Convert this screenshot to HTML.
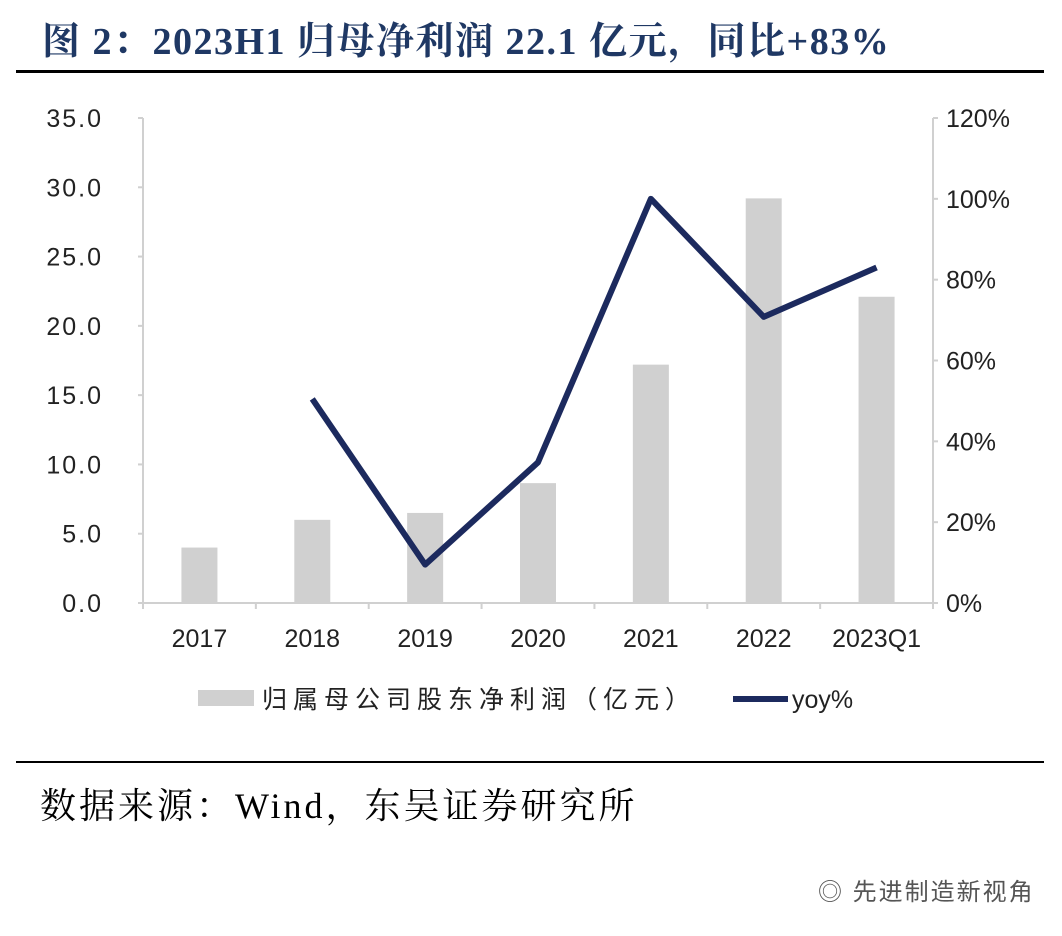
<!DOCTYPE html>
<html><head><meta charset="utf-8"><style>
body{margin:0;width:1062px;height:936px;background:#fff;overflow:hidden;position:relative;font-family:"Liberation Sans","Noto Sans CJK SC",sans-serif}
.abs{position:absolute;white-space:nowrap}
</style></head><body>
<div class="abs" style="left:42px;top:10px;font-family:'Liberation Serif','Noto Serif CJK SC',serif;font-weight:bold;font-size:38px;letter-spacing:1.5px;color:#1f3864;">图 2：2023H1 归母净利润 22.1 亿元，同比+83%</div>
<div class="abs" style="left:16px;top:70px;width:1028px;height:3px;background:#000"></div>
<svg id="chart" class="abs" style="left:0;top:0" width="1062" height="740"></svg>
<div class="abs" style="left:16px;top:761px;width:1028px;height:2px;background:#000"></div>
<div class="abs" style="left:40px;top:778px;font-family:'Liberation Serif','Noto Serif CJK SC',serif;font-size:36px;letter-spacing:3px;color:#000">数据来源：Wind，东吴证券研究所</div>
<div class="abs" style="left:818px;top:872px;font-size:24px;letter-spacing:2px;color:#555">◎ 先进制造新视角</div>
<script>
const categories=["2017","2018","2019","2020","2021","2022","2023Q1"];
const profit=[4.0,6.0,6.5,8.65,17.2,29.2,22.1];
const yoy=[null,50.5,9.5,34.8,100,70.8,83];
const leftTicks=[0,5,10,15,20,25,30,35];
const rightTicks=[0,20,40,60,80,100,120];
const svg=document.getElementById('chart');const NS='http://www.w3.org/2000/svg';
function mk(t,a,txt){const e=document.createElementNS(NS,t);for(const k in a)e.setAttribute(k,a[k]);if(txt!=null)e.textContent=txt;svg.appendChild(e);return e;}
const x0=143,x1=933,yb=603,yt=118,band=(x1-x0)/categories.length;
const yL=v=>yb-(v/35)*(yb-yt), yR=v=>yb-(v/120)*(yb-yt), xc=i=>x0+band*(i+0.5);
let e;
e=mk('line',{x1:x0,y1:yt,x2:x0,y2:yb,stroke:'#d0d0d0','stroke-width':2});
e=mk('line',{x1:x1,y1:yt,x2:x1,y2:yb,stroke:'#d0d0d0','stroke-width':2});
leftTicks.forEach(v=>{mk('line',{x1:x0-5,y1:yL(v),x2:x0,y2:yL(v),stroke:'#d0d0d0','stroke-width':2});
e=mk('text',{x:103,y:yL(v)+9,'font-size':25,fill:'#222','text-anchor':'end','letter-spacing':2},v.toFixed(1));});
rightTicks.forEach(v=>{mk('line',{x1:x1,y1:yR(v),x2:x1+5,y2:yR(v),stroke:'#d0d0d0','stroke-width':2});
e=mk('text',{x:946,y:yR(v)+9,'font-size':25,fill:'#222'},v+'%');});
categories.forEach((c,i)=>{
e=mk('rect',{x:xc(i)-18,y:yL(profit[i]),width:36,height:yb-yL(profit[i]),fill:'#d0d0d0'});
e=mk('text',{x:xc(i),y:647,'font-size':25,fill:'#222','text-anchor':'middle'},c);
mk('line',{x1:x0+band*i,y1:yb,x2:x0+band*i,y2:yb+6,stroke:'#d0d0d0','stroke-width':2});});
mk('line',{x1:x1,y1:yb,x2:x1,y2:yb+6,stroke:'#d0d0d0','stroke-width':2});
e=mk('line',{x1:x0-4,y1:yb,x2:x1,y2:yb,stroke:'#d0d0d0','stroke-width':2});
let pts=[];yoy.forEach((v,i)=>{if(v!=null)pts.push(xc(i)+','+yR(v));});
e=mk('polyline',{points:pts.join(' '),fill:'none',stroke:'#1c2a5e','stroke-width':6,'stroke-linejoin':'round'});
e=mk('rect',{x:198,y:690,width:56,height:16,fill:'#d0d0d0'});
e=mk('text',{x:262,y:708,'font-size':25,fill:'#222','letter-spacing':6},'归属母公司股东净利润（亿元）');
e=mk('line',{x1:733,y1:699,x2:788,y2:699,stroke:'#1c2a5e','stroke-width':6});
e=mk('text',{x:792,y:708,'font-size':25,fill:'#222'},'yoy%');
</script>
</body></html>
